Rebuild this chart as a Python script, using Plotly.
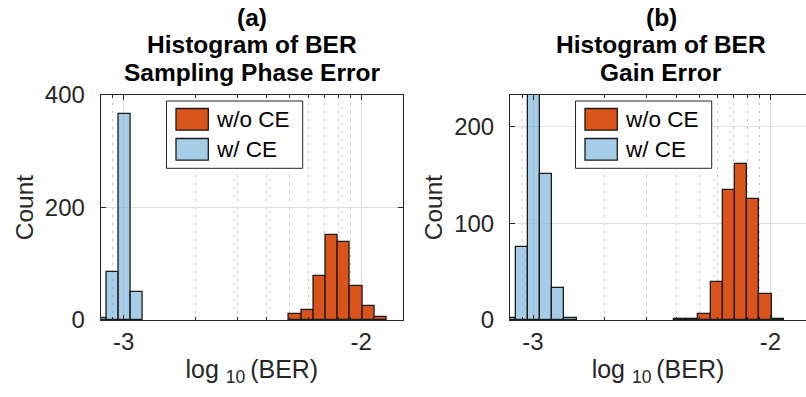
import numpy as np
import plotly.graph_objects as go

# ---------------- data ----------------
# histogram bin centres, in log10(BER)
bins_blue_a = [-3.0986, -3.0473, -2.9960, -2.9447]
counts_blue_a = [3, 85, 366, 49]
bins_orange_a = [-2.2777, -2.2264, -2.1751, -2.1238, -2.0725, -2.0212, -1.9699, -1.9186]
counts_orange_a = [10, 18, 78, 152, 138, 61, 25, 5]

bins_blue_b = [-3.0986, -3.0473, -2.9960, -2.9447, -2.8934, -2.8421]
counts_blue_b = [2, 76, 237, 151, 33, 2]
bins_orange_b = [-2.3803, -2.3290, -2.2777, -2.2264, -2.1751, -2.1238, -2.0725, -2.0212, -1.9699]
counts_orange_b = [1, 1, 6, 39, 134, 161, 125, 27, 1]

bin_width = 0.0513

series_names = ["w/o CE", "w/ CE"]
titles_a = ["(a)", "Histogram of BER", "Sampling Phase Error"]
titles_b = ["(b)", "Histogram of BER", "Gain Error"]

x_tickvals = [-3, -2]
x_ticktext = ["-3", "-2"]
x_minor_vals = [float(np.log10(v)) for v in [9e-4, 2e-3, 3e-3, 4e-3, 5e-3, 6e-3, 7e-3, 8e-3, 9e-3]]
x_range_a = [float(np.log10(8e-4)), float(np.log10(1.5e-2))]
x_range_b = [float(np.log10(8e-4)), -1.8506]
y_ticks_a = [0, 200, 400]
y_ticks_b = [0, 100, 200]
y_range_a = [0, 400]
y_range_b = [0, 232.8]

# ---------------- style ----------------
W, H = 806, 397
FONT = "Liberation Sans, Arial, Helvetica, sans-serif"
ORANGE = "#D9531A"
BLUE_FILL = "rgba(107,172,217,0.6)"
BLUE_SWATCH = "#A6CDE8"
EDGE = "#1a1a1a"
AXC = "#262626"


def px(x):
    return x / W


def py(y):
    return 1 - y / H


fig = go.Figure()

panels = [
    ("x", "y", bins_blue_a, counts_blue_a, bins_orange_a, counts_orange_a),
    ("x2", "y2", bins_blue_b, counts_blue_b, bins_orange_b, counts_orange_b),
]
for xa, ya, bb, cb, bo, co in panels:
    fig.add_trace(go.Bar(x=bo, y=co, width=bin_width, xaxis=xa, yaxis=ya,
                         name=series_names[0], showlegend=False,
                         marker=dict(color=ORANGE, line=dict(color=EDGE, width=1.3))))
    fig.add_trace(go.Bar(x=bb, y=cb, width=bin_width, xaxis=xa, yaxis=ya,
                         name=series_names[1], showlegend=False,
                         marker=dict(color=BLUE_FILL, line=dict(color=EDGE, width=1.3))))

ydom = [py(320), py(95)]

common_x = dict(
    tickmode="array", tickvals=x_tickvals, ticktext=x_ticktext,
    showgrid=True, gridcolor="#dedede", gridwidth=1,
    showline=True, linecolor=AXC, linewidth=1,
    ticks="inside", ticklen=5, tickcolor=AXC,
    minor=dict(tickmode="array", tickvals=x_minor_vals, ticks="inside", ticklen=3,
               tickcolor=AXC, showgrid=True, griddash="2px,6px", gridcolor="#bdbdbd", gridwidth=1),
    tickfont=dict(family=FONT, size=24, color="#262626"),
    zeroline=False, automargin=False,
    title=dict(text="log <sub>10 </sub>(BER)", font=dict(family=FONT, size=25, color="#262626"),
               standoff=6),
)
common_y = dict(
    tickmode="array",
    showgrid=True, gridcolor="#dedede", gridwidth=1,
    showline=True, linecolor=AXC, linewidth=1,
    ticks="inside", ticklen=5, tickcolor=AXC,
    tickfont=dict(family=FONT, size=24, color="#262626"),
    zeroline=False, automargin=False, ticklabelstandoff=10,
    title=dict(text="Count", font=dict(family=FONT, size=24.5, color="#262626"), standoff=4),
)

fig.update_layout(
    width=W, height=H,
    margin=dict(l=0, r=0, t=0, b=0),
    paper_bgcolor="white", plot_bgcolor="white",
    barmode="overlay", bargap=0,
    xaxis=dict(common_x, domain=[px(100.7), px(403)], range=x_range_a, anchor="y", mirror="ticks"),
    yaxis=dict(common_y, domain=ydom, range=y_range_a, tickvals=y_ticks_a, anchor="x", mirror="ticks"),
    xaxis2=dict(common_x, domain=[px(510), 1.0], range=x_range_b, anchor="y2", mirror="ticks"),
    yaxis2=dict(common_y, domain=ydom, range=y_range_b, tickvals=y_ticks_b, anchor="x2", mirror=False),
)

annotations = []
shapes = []
title_y = [17, 44, 72]
for cx, lines in [(252, titles_a), (661, titles_b)]:
    for ty, txt in zip(title_y, lines):
        annotations.append(dict(text="<b>%s</b>" % txt, x=px(cx), y=py(ty), xref="paper", yref="paper",
                                xanchor="center", yanchor="middle", showarrow=False,
                                font=dict(family=FONT, size=24.5, color="black")))

# legends
for ox in [0, 409]:
    shapes.append(dict(type="rect", xref="paper", yref="paper",
                       x0=px(166.5 + ox), x1=px(302.7 + ox), y0=py(168.3), y1=py(101),
                       fillcolor="white", line=dict(color=AXC, width=1), layer="above"))
    for sy, col, name in [(108.5, ORANGE, series_names[0]), (138.5, BLUE_SWATCH, series_names[1])]:
        shapes.append(dict(type="rect", xref="paper", yref="paper",
                           x0=px(176 + ox), x1=px(208.3 + ox), y0=py(sy + 21.7), y1=py(sy),
                           fillcolor=col, line=dict(color=EDGE, width=1.3), layer="above"))
        annotations.append(dict(text=name, x=px(214 + ox), y=py(sy + 11), xref="paper", yref="paper",
                                xanchor="left", yanchor="middle", showarrow=False,
                                font=dict(family=FONT, size=22.5, color="black")))

fig.update_layout(annotations=annotations, shapes=shapes)
fig.write_html("out.html")
